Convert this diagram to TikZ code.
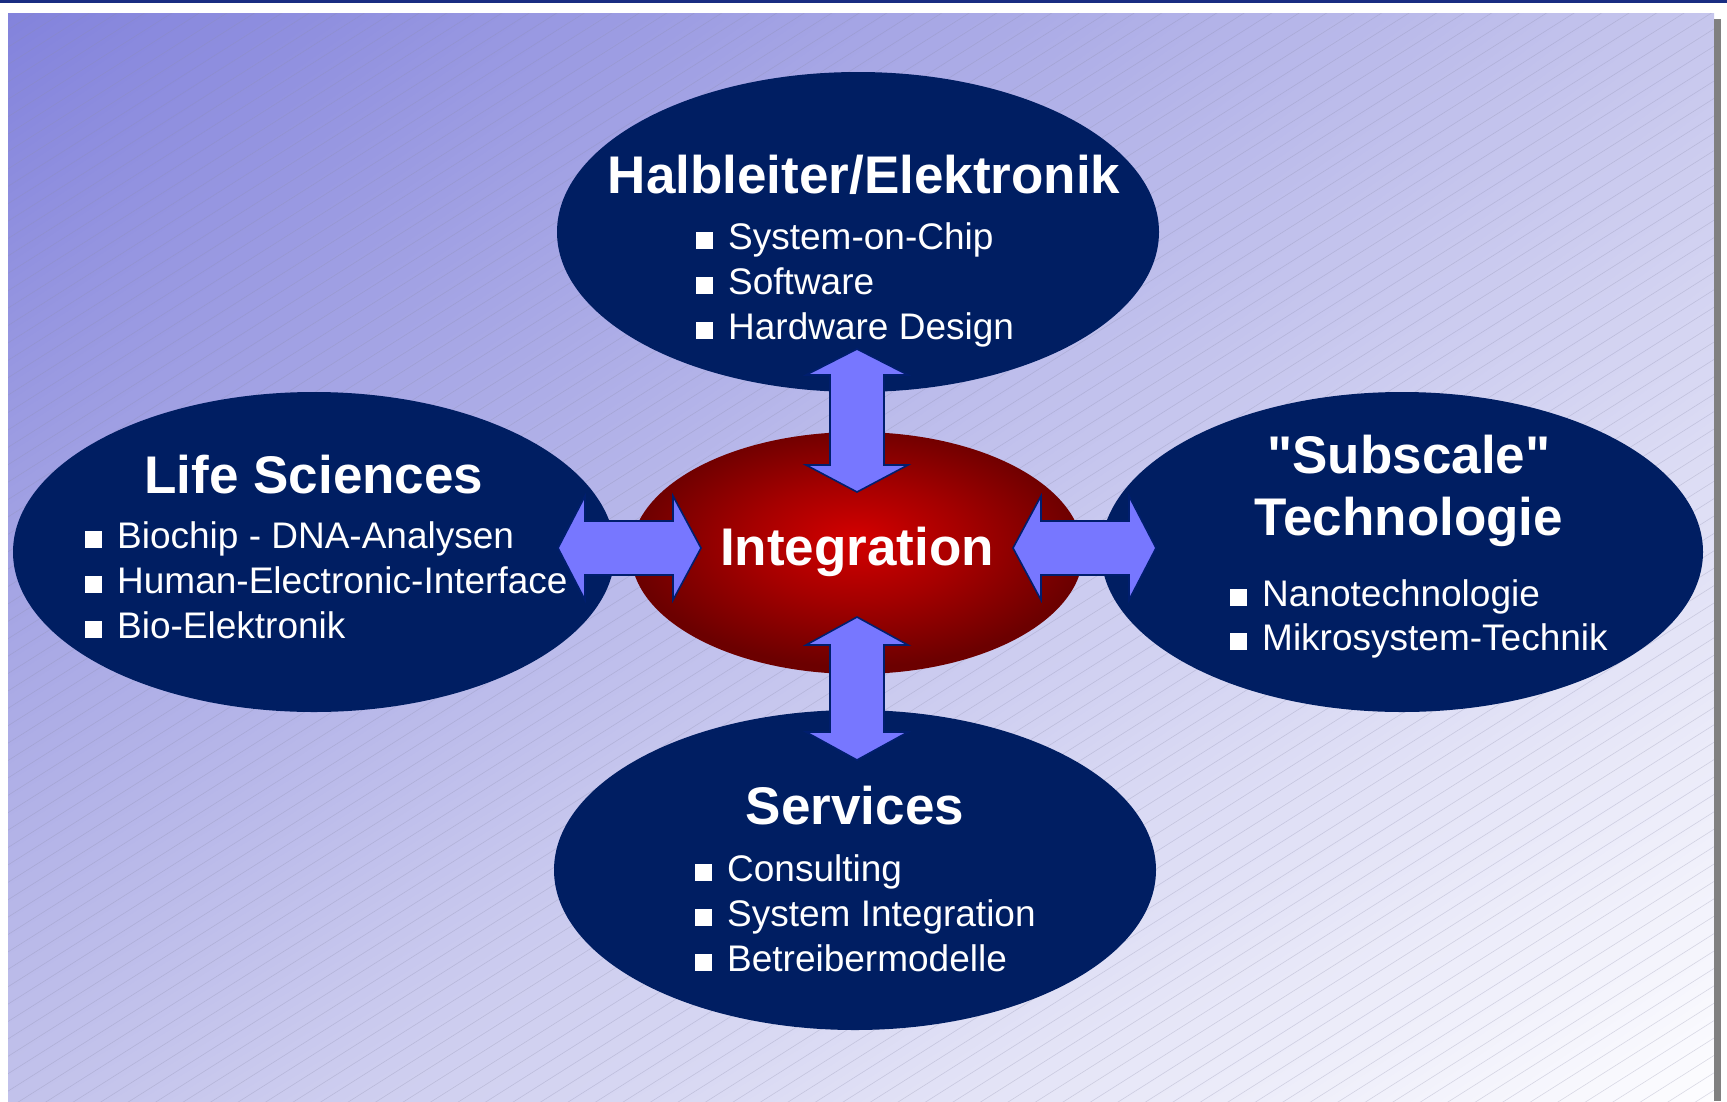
\documentclass[tikz,border=0pt]{standalone}
\usepackage{fontspec}
\setmainfont{Liberation Sans}[Ligatures=TeXOff]
\usetikzlibrary{shapes.geometric,shadings}
\definecolor{navy}{RGB}{0,30,98}
\definecolor{arrowfill}{RGB}{119,119,255}
\definecolor{arrowline}{RGB}{0,30,110}
\definecolor{topline}{RGB}{25,45,130}
\definecolor{bgTL}{RGB}{131,131,220}
\definecolor{bgTR}{RGB}{198,198,237}
\definecolor{bgBL}{RGB}{194,194,235}
\definecolor{bgBR}{RGB}{253,253,255}
\definecolor{hatch}{RGB}{140,140,170}
\definecolor{shadowgray}{RGB}{128,128,128}
\definecolor{redA}{RGB}{212,0,0}
\definecolor{redB}{RGB}{165,0,0}
\definecolor{redC}{RGB}{108,0,0}
\pgfdeclareradialshading{redglow}{\pgfpoint{0bp}{3bp}}{color(0bp)=(redA); color(12bp)=(redB); color(25bp)=(redC); color(50bp)=(redC)}
\newcommand{\sqbul}{\rule{17pt}{17pt}\hspace{15pt}}
\tikzset{
  blob/.style={ellipse, fill=navy, inner sep=0pt, minimum width=602pt, minimum height=320pt},
  core/.style={ellipse, shading=redglow, inner sep=0pt, minimum width=452pt, minimum height=242pt},
  titletext/.style={text=white, inner sep=0pt, anchor=base, font=\fontsize{53}{60}\selectfont\bfseries},
  itemtext/.style={text=white, inner sep=0pt, anchor=base west, font=\fontsize{37}{45}\selectfont},
  blockarrow/.style={fill=arrowfill, draw=arrowline, line width=1.6pt, line join=miter},
  hatchline/.style={draw=hatch, line width=0.6pt, opacity=0.3}
}
\begin{document}
\begin{tikzpicture}[x=1pt,y=-1pt]
\useasboundingbox (0,0) rectangle (1727,1101);
% frame
\fill[white] (0,0) rectangle (1727,1101);
\fill[topline] (0,0) rectangle (1727,2.5);
\shade[upper left=bgTL, upper right=bgTR, lower left=bgBL, lower right=bgBR] (8,13) rectangle (1714,1101);
\begin{scope}
  \clip (8,13) rectangle (1714,1101);
  \foreach \c in {0,17.4,...,2210} \draw[hatchline] (0,\c) -- (1727,\c-1093);
\end{scope}
\fill[shadowgray] (1714,19) rectangle (1721,1101);

% ellipses
\node[core] (integ) at (857,553) {};
\node[blob] (hl) at (858,232) {};
\node[blob] (ls) at (314,552) {};
\node[blob] (st) at (1402,552) {};
\node[blob] (sv) at (855,870) {};

% block arrows
\coordinate (aT1) at (857,349); \coordinate (aT2) at (857,492);
\coordinate (aB1) at (857,617); \coordinate (aB2) at (857,760);
\coordinate (aL1) at (558,548); \coordinate (aL2) at (701,548);
\coordinate (aR1) at (1013,548); \coordinate (aR2) at (1156,548);
\draw[blockarrow] (aT1) -- ++(51,26) -- ++(-24,0) -- ++(0,90) -- ++(24,0) -- (aT2) -- ++(-51,-27) -- ++(24,0) -- ++(0,-90) -- ++(-24,0) -- cycle;
\draw[blockarrow] (aB1) -- ++(51,28) -- ++(-24,0) -- ++(0,87) -- ++(24,0) -- (aB2) -- ++(-51,-28) -- ++(24,0) -- ++(0,-87) -- ++(-24,0) -- cycle;
\draw[blockarrow] (aL1) -- ++(27,-52) -- ++(0,25) -- ++(88,0) -- ++(0,-25) -- (aL2) -- ++(-28,52) -- ++(0,-25) -- ++(-88,0) -- ++(0,25) -- cycle;
\draw[blockarrow] (aR1) -- ++(28,-52) -- ++(0,25) -- ++(88,0) -- ++(0,-25) -- (aR2) -- ++(-27,52) -- ++(0,-25) -- ++(-88,0) -- ++(0,25) -- cycle;

% texts
\node[titletext] (integT) at (857,565) {Integration};

\node[titletext] (hlT) at (864,193) {Halbleiter/Elektronik};
\node[itemtext] (hl1) at (696,249) {\sqbul System-on-Chip};
\node[itemtext] (hl2) at (696,294) {\sqbul Software};
\node[itemtext] (hl3) at (696,339) {\sqbul Hardware Design};

\node[titletext] (lsT) at (314,493) {Life Sciences};
\node[itemtext] (ls1) at (85,548) {\sqbul Biochip - DNA-Analysen};
\node[itemtext] (ls2) at (85,593) {\sqbul Human-Electronic-Interface};
\node[itemtext] (ls3) at (85,638) {\sqbul Bio-Elektronik};

\node[titletext] (stT1) at (1409,473) {"Subscale"};
\node[titletext] (stT2) at (1409,535) {Technologie};
\node[itemtext] (st1) at (1230,606) {\sqbul Nanotechnologie};
\node[itemtext] (st2) at (1230,650) {\sqbul Mikrosystem-Technik};

\node[titletext] (svT) at (855,824) {Services};
\node[itemtext] (sv1) at (695,881) {\sqbul Consulting};
\node[itemtext] (sv2) at (695,926) {\sqbul System Integration};
\node[itemtext] (sv3) at (695,971) {\sqbul Betreibermodelle};
\end{tikzpicture}
\end{document}
